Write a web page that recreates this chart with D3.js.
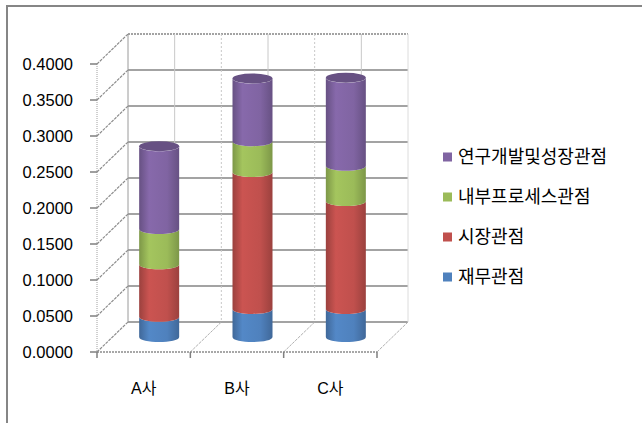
<!DOCTYPE html>
<html>
<head>
<meta charset="utf-8">
<script src="https://cdn.jsdelivr.net/npm/d3@7"></script>
<style>
  body { margin: 0; background: #fff; }
  svg text { font-family: "Liberation Sans", "Noto Sans CJK KR", sans-serif; fill: #000; }
  .legend text { font-family: "Noto Sans CJK KR", sans-serif; }
</style>
</head>
<body>
<div id="chart"></div>
<script>
// data
var categories = ["A사", "B사", "C사"];
var seriesNames = ["재무관점", "시장관점", "내부프로세스관점", "연구개발및성장관점"];
var finance  = [0.028, 0.039, 0.039];
var market   = [0.073, 0.190, 0.150];
var internal = [0.049, 0.043, 0.049];
var research = [0.115, 0.087, 0.122];
var yTicks = [0, 0.05, 0.1, 0.15, 0.2, 0.25, 0.3, 0.35, 0.4];
var colours = ["#4F81BD", "#C0504D", "#9BBB59", "#8064A2"];

var width = 642, height = 423;
var depth = {dx: 31, dy: -30};

var svg = d3.select("#chart").append("svg")
    .attr("width", width)
    .attr("height", height);

var defs = svg.append("defs");

// frame (only top/left edges show)
svg.append("rect")
    .attr("x", 7).attr("y", 6)
    .attr("width", 800).attr("height", 600)
    .attr("fill", "none")
    .attr("stroke", "#868686")
    .attr("stroke-width", 2);

var x = d3.scaleBand().domain(categories).range([97, 377]).padding(0);
var y = d3.scaleLinear().domain([0, 0.4]).range([352, 64]);

var x0 = x.range()[0], x1 = x.range()[1];

var g = svg.append("g");

// back wall horizontal gridlines
g.selectAll(".grid")
    .data(yTicks)
  .enter().append("line")
    .attr("x1", x0 + depth.dx).attr("x2", x1 + depth.dx)
    .attr("y1", function(d) { return y(d) + depth.dy; })
    .attr("y2", function(d) { return y(d) + depth.dy; })
    .attr("stroke", "#858585")
    .attr("stroke-width", 1.3)
    .attr("stroke-dasharray", function(d) { return d === 0.4 ? "2,1" : null; });

// back wall verticals: band centres solid, band edges dashed
var backTop = y(0.4) + depth.dy, backBottom = y(0) + depth.dy;
g.selectAll(".vc")
    .data(categories)
  .enter().append("line")
    .attr("x1", function(d) { return x(d) + x.bandwidth() / 2 + depth.dx; })
    .attr("x2", function(d) { return x(d) + x.bandwidth() / 2 + depth.dx; })
    .attr("y1", backTop).attr("y2", backBottom)
    .attr("stroke", "#c8c8c8");
g.selectAll(".ve")
    .data(categories.slice(1))
  .enter().append("line")
    .attr("x1", function(d) { return x(d) + depth.dx; })
    .attr("x2", function(d) { return x(d) + depth.dx; })
    .attr("y1", backTop).attr("y2", backBottom)
    .attr("stroke", "#c8c8c8")
    .attr("stroke-dasharray", "2,2");

// back wall left and right edges
g.append("line")
    .attr("x1", x0 + depth.dx).attr("x2", x0 + depth.dx)
    .attr("y1", backTop).attr("y2", backBottom)
    .attr("stroke", "#9a9a9a");
g.append("line")
    .attr("x1", x1 + depth.dx).attr("x2", x1 + depth.dx)
    .attr("y1", backTop).attr("y2", backBottom)
    .attr("stroke", "#dcdcdc");

// side wall diagonals
g.selectAll(".diag")
    .data(yTicks)
  .enter().append("line")
    .attr("x1", x0).attr("y1", function(d) { return y(d); })
    .attr("x2", x0 + depth.dx).attr("y2", function(d) { return y(d) + depth.dy; })
    .attr("stroke", "#8c8c8c")
    .attr("stroke-width", 1.2)
    .attr("stroke-dasharray", "3,1");

// floor diagonals at category edges
var edges = x.domain().map(function(d) { return x(d); }).concat([x1]);
g.selectAll(".floorDiag")
    .data(edges.slice(1))
  .enter().append("line")
    .attr("x1", function(d) { return d; }).attr("y1", y(0))
    .attr("x2", function(d) { return d + depth.dx; }).attr("y2", y(0) + depth.dy)
    .attr("stroke", "#b0b0b0")
    .attr("stroke-dasharray", "3,1");

// front y axis (dotted) and floor front edge
g.append("line")
    .attr("x1", x0).attr("x2", x0)
    .attr("y1", y(0.4)).attr("y2", y(0))
    .attr("stroke", "#a0a0a0")
    .attr("stroke-dasharray", "1,1");
g.append("line")
    .attr("x1", x0).attr("x2", x1)
    .attr("y1", y(0)).attr("y2", y(0))
    .attr("stroke", "#8c8c8c")
    .attr("stroke-width", 1.5)
    .attr("stroke-dasharray", "2,1");

// y ticks and labels
g.selectAll(".ytick")
    .data(yTicks)
  .enter().append("line")
    .attr("x1", x0 - 7).attr("x2", x0)
    .attr("y1", function(d) { return y(d); })
    .attr("y2", function(d) { return y(d); })
    .attr("stroke", "#7f7f7f")
    .attr("stroke-width", 1.5);
g.selectAll(".ylab")
    .data(yTicks)
  .enter().append("text")
    .attr("x", 73)
    .attr("y", function(d) { return y(d); })
    .attr("dy", "0.36em")
    .attr("text-anchor", "end")
    .style("font-size", "16.5px")
    .text(function(d) { return d3.format(".4f")(d); });

// x ticks and labels
g.selectAll(".xtick")
    .data(edges)
  .enter().append("line")
    .attr("x1", function(d) { return d; }).attr("x2", function(d) { return d; })
    .attr("y1", y(0)).attr("y2", y(0) + 6)
    .attr("stroke", "#7f7f7f")
    .attr("stroke-width", 1.5);
g.selectAll(".xlab")
    .data(categories)
  .enter().append("text")
    .attr("x", function(d) { return x(d) + x.bandwidth() / 2; })
    .attr("y", 388)
    .attr("dy", "0.36em")
    .attr("text-anchor", "middle")
    .style("font-size", "16px")
    .text(function(d) { return d; });

// gradients for cylinders
colours.forEach(function(c, i) {
    var grad = defs.append("linearGradient")
        .attr("id", "cyl" + i)
        .attr("x1", "0").attr("x2", "1").attr("y1", "0").attr("y2", "0");
    var base = d3.color(c);
    grad.append("stop").attr("offset", "0%").attr("stop-color", base.darker(0.6));
    grad.append("stop").attr("offset", "25%").attr("stop-color", base.brighter(0.15));
    grad.append("stop").attr("offset", "70%").attr("stop-color", base);
    grad.append("stop").attr("offset", "100%").attr("stop-color", base.darker(0.6));
});

// stacked cylinders
var rows = categories.map(function(c, i) {
    return {cat: c, v: [finance[i], market[i], internal[i], research[i]]};
});
var rx = 20, ry = 5;
var mid = {dx: depth.dx / 2, dy: depth.dy / 2};

rows.forEach(function(r) {
    var cx = x(r.cat) + x.bandwidth() / 2 + mid.dx;
    var acc = 0;
    r.v.forEach(function(v, i) {
        var yb = y(acc) + mid.dy;
        acc += v;
        var yt = y(acc) + mid.dy;
        var p = d3.path();
        p.moveTo(cx - rx, yt);
        p.lineTo(cx - rx, yb);
        // front arc at bottom
        p.bezierCurveTo(cx - rx, yb + ry * 1.33, cx + rx, yb + ry * 1.33, cx + rx, yb);
        p.lineTo(cx + rx, yt);
        p.bezierCurveTo(cx + rx, yt + ry * 1.33, cx - rx, yt + ry * 1.33, cx - rx, yt);
        p.closePath();
        g.append("path")
            .attr("d", p.toString())
            .attr("fill", "url(#cyl" + i + ")");
        if (i === r.v.length - 1) {
            g.append("ellipse")
                .attr("cx", cx).attr("cy", yt)
                .attr("rx", rx).attr("ry", ry)
                .attr("fill", d3.color(colours[i]).darker(0.6));
        }
    });
});

// legend
var legend = svg.append("g").attr("class", "legend");
var order = [3, 2, 1, 0];
legend.selectAll("g")
    .data(order)
  .enter().append("g")
    .attr("transform", function(d, k) { return "translate(443," + (157 + k * 40) + ")"; })
    .each(function(d) {
        var s = d3.select(this);
        s.append("rect")
            .attr("x", 0).attr("y", -4.5)
            .attr("width", 9).attr("height", 9)
            .attr("fill", colours[d]);
        s.append("text")
            .attr("x", 15).attr("y", 0)
            .attr("dy", "0.36em")
            .style("font-size", "18px")
            .text(seriesNames[d]);
    });
</script>
</body>
</html>
